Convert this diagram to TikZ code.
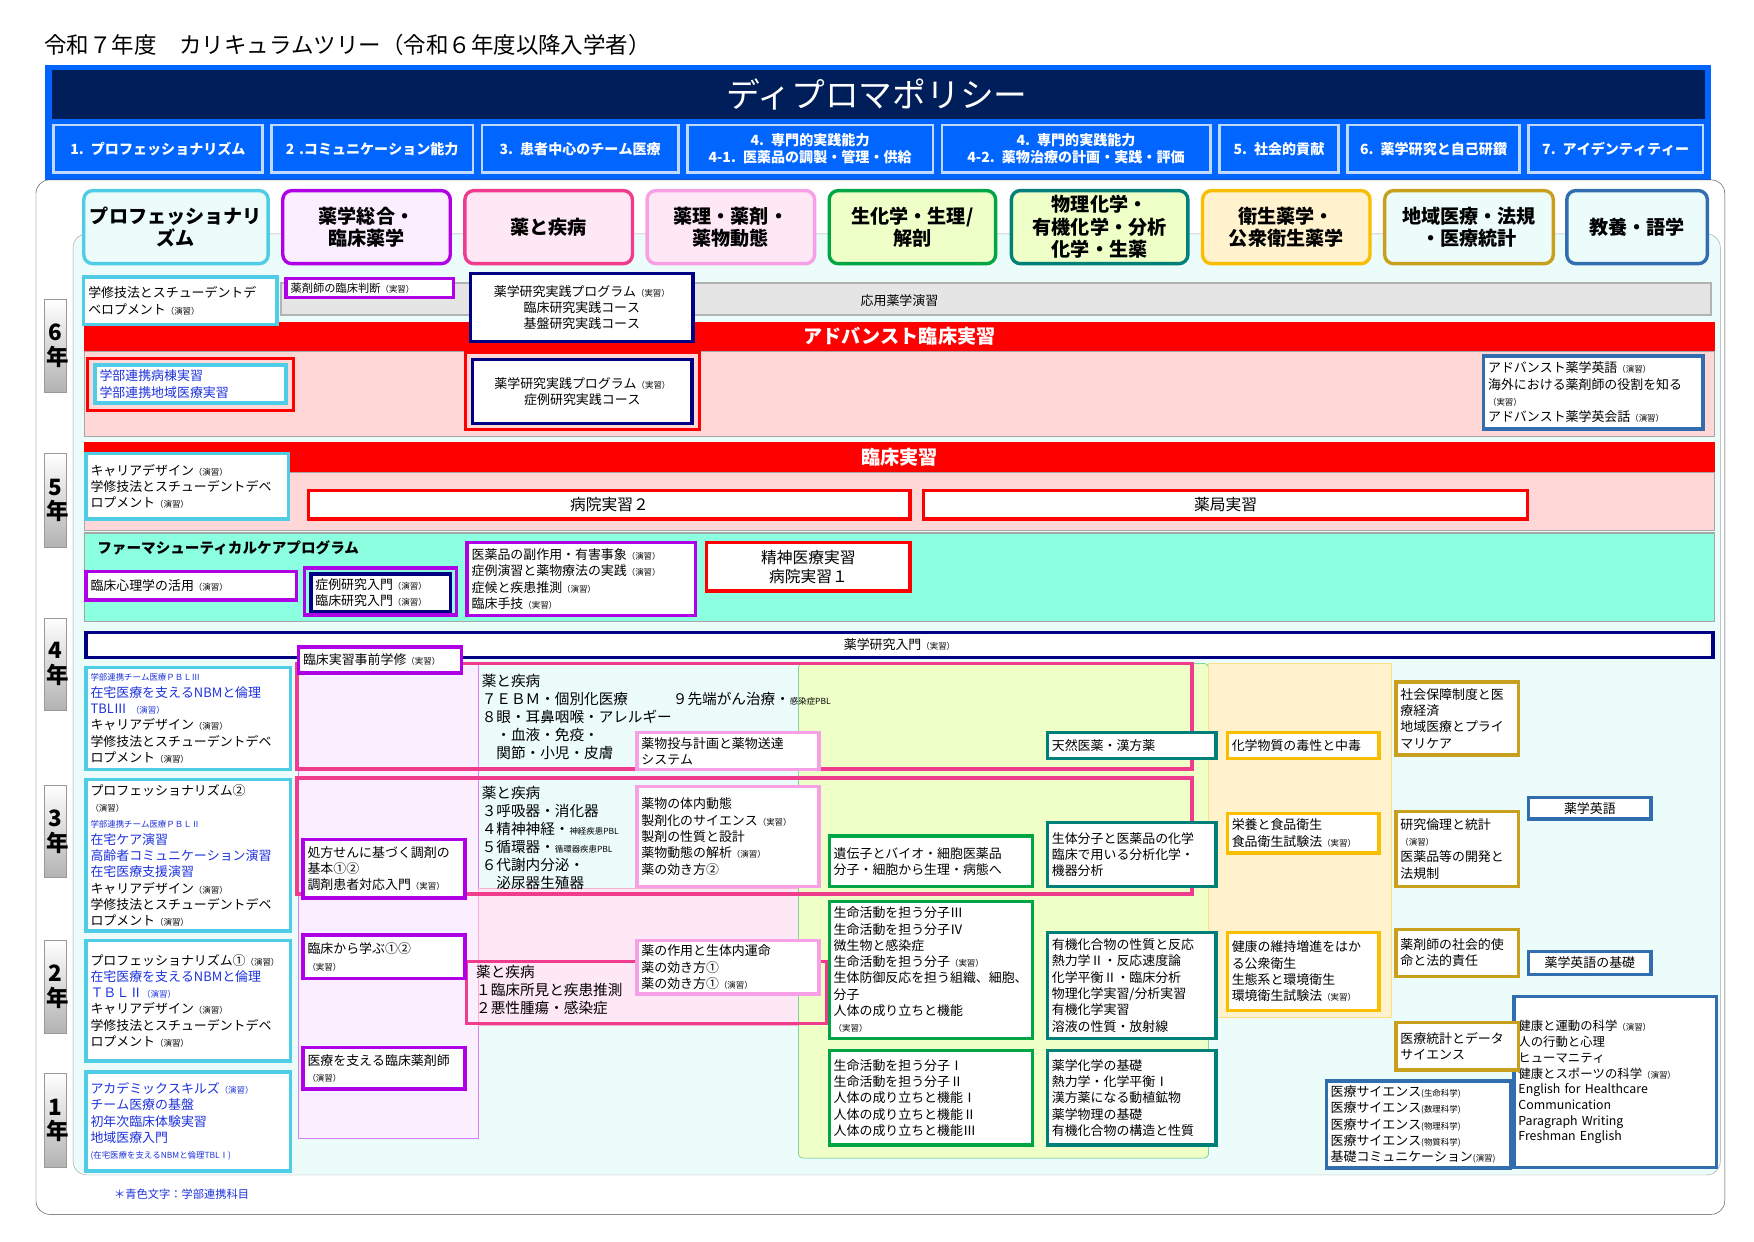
\documentclass[tikz,border=0pt]{standalone}
\usepackage{fontspec}
\setmainfont{Noto Sans CJK JP}
\XeTeXlinebreaklocale "ja"
\definecolor{dpblue}{RGB}{0,102,255}
\definecolor{dpnavy}{RGB}{0,30,90}
\definecolor{cyanb}{RGB}{80,205,230}
\definecolor{purb}{RGB}{175,0,230}
\definecolor{magb}{RGB}{240,60,140}
\definecolor{lpinkb}{RGB}{248,160,230}
\definecolor{greenb}{RGB}{0,165,70}
\definecolor{tealb}{RGB}{0,128,120}
\definecolor{yelb}{RGB}{250,190,0}
\definecolor{goldb}{RGB}{200,160,30}
\definecolor{steelb}{RGB}{50,110,175}
\definecolor{navyb}{RGB}{0,0,130}
\definecolor{bluet}{RGB}{30,50,220}
\definecolor{aqua}{RGB}{140,255,225}
\definecolor{pinkf}{RGB}{255,215,215}
\definecolor{bgcyan}{RGB}{235,252,250}
\definecolor{greenf}{RGB}{238,255,200}
\definecolor{yelf}{RGB}{255,242,205}
\definecolor{purf}{RGB}{250,238,255}
\definecolor{magf}{RGB}{255,232,246}
\newcommand\crs{\fontsize{11.5}{14.5}\selectfont}
\newcommand\sm[1]{{\fontsize{7.5}{9}\selectfont #1}}
\newcommand\en{\sm{（演習）}}
\newcommand\ji{\sm{（実習）}}
\newcommand\blk[7]{%
  \pgfmathsetmacro\tw{#5-#3-11}%
  \pgfmathsetmacro\th{#6-#4-3}%
  \node[#2, anchor=north west, text width=\tw pt, minimum height=\th pt] (#1) at (#3+1.5,#4+1.5) {#7};}
\tikzset{
  cbox/.style={draw=#1, line width=3pt, fill=white, inner sep=4pt, outer sep=0pt, align=left, font=\crs},
  head/.style 2 args={draw=#1, fill=#2, line width=3pt, rounded corners=8pt, inner sep=4pt, outer sep=0pt,
    align=center, font=\fontsize{17}{20}\selectfont\bfseries},
  dpbox/.style={fill=dpblue, draw=white!75!dpblue, line width=2pt, inner sep=4pt, outer sep=0pt, text=white,
    align=center, font=\fontsize{12.5}{15}\selectfont\bfseries},
  band/.style={fill=#1, draw=gray!70, line width=1pt},
  yeartab/.style={draw=gray!80, top color=white, bottom color=gray!60, inner sep=2pt, outer sep=0pt,
    align=center, font=\fontsize{20}{22}\selectfont\bfseries, text width=18pt},
}
\begin{document}
\begin{tikzpicture}[x=1pt,y=-1pt]
  \useasboundingbox (0,0) rectangle (1560,1104);
  \fill[white] (0,0) rectangle (1560,1104);
  \node[anchor=west, font=\fontsize{20}{22}\selectfont] (title) at (36,40) {令和７年度　カリキュラムツリー（令和６年度以降入学者）};
  % diploma policy
  \fill[dpblue] (40,58) rectangle (1522,160);
  \fill[dpnavy] (46,62) rectangle (1516,106);
  \node[text=white, font=\fontsize{30}{32}\selectfont] (dp) at (780,84) {ディプロマポリシー};
  \blk{dp1}{dpbox}{46}{110}{235}{155}{1. プロフェッショナリズム}
  \blk{dp2}{dpbox}{240}{110}{422}{155}{2 .コミュニケーション能力}
  \blk{dp3}{dpbox}{427}{110}{605}{155}{3. 患者中心のチーム医療}
  \blk{dp41}{dpbox}{610}{110}{831}{155}{4. 専門的実践能力\\4-1. 医薬品の調製・管理・供給}
  \blk{dp42}{dpbox}{836}{110}{1078}{155}{4. 専門的実践能力\\4-2. 薬物治療の計画・実践・評価}
  \blk{dp5}{dpbox}{1083}{110}{1192}{155}{5. 社会的貢献}
  \blk{dp6}{dpbox}{1197}{110}{1353}{155}{6. 薬学研究と自己研鑽}
  \blk{dp7}{dpbox}{1358}{110}{1516}{155}{7. アイデンティティー}
  % frames
  \draw[black!70, rounded corners=12pt] (32,160) rectangle (1534,1080);
  \draw[gray!70, fill=bgcyan, rounded corners=12pt] (65,208) rectangle (1530,1045);
  \draw[purb!50, fill=purf] (265,590) rectangle (425,1012);
  \draw[magb!40, fill=magf] (425,790) rectangle (735,912);
  \draw[greenb!70, fill=greenf, rounded corners=4pt] (710,590) rectangle (1075,1030);
  \draw[yelb!50, fill=yelf] (1075,590) rectangle (1237,905);
  % categories
  \blk{c1}{head={cyanb}{bgcyan}}{73}{168}{240}{236}{プロフェッショナリ\\ズム}
  \blk{c2}{head={purb}{purf}}{250}{168}{402}{236}{薬学総合・\\臨床薬学}
  \blk{c3}{head={magb}{magf}}{412}{168}{564}{236}{薬と疾病}
  \blk{c4}{head={lpinkb}{magf}}{574}{168}{726}{236}{薬理・薬剤・\\薬物動態}
  \blk{c5}{head={greenb}{greenf}}{736}{168}{887}{236}{生化学・生理/\\解剖}
  \blk{c6}{head={tealb}{greenf}}{898}{168}{1058}{236}{物理化学・\\有機化学・分析\\化学・生薬}
  \blk{c7}{head={yelb}{yelf}}{1068}{168}{1220}{236}{衛生薬学・\\公衆衛生薬学}
  \blk{c8}{head={goldb}{bgcyan}}{1230}{168}{1383}{236}{地域医療・法規\\・医療統計}
  \blk{c9}{head={steelb}{bgcyan}}{1392}{168}{1520}{236}{教養・語学}
  % years
  \blk{y6}{yeartab}{38}{265}{64}{350}{6\\年}
  \blk{y5}{yeartab}{38}{402}{64}{488}{5\\年}
  \blk{y4}{yeartab}{38}{548}{64}{633}{4\\年}
  \blk{y3}{yeartab}{38}{697}{64}{782}{3\\年}
  \blk{y2}{yeartab}{38}{835}{64}{920}{2\\年}
  \blk{y1}{yeartab}{38}{953}{64}{1040}{1\\年}
  % 6th year
  \draw[band=gray!20, draw=gray!60, line width=2pt] (250,252) rectangle (1522,280);
  \node[font=\crs] (ouyou) at (800,267) {応用薬学演習};
  \fill[red] (75,286) rectangle (1525,313);
  \node[text=white, font=\fontsize{17}{19}\selectfont\bfseries] (adv) at (800,299) {アドバンスト臨床実習};
  \draw[band=pinkf] (75,313) rectangle (1525,388);
  \blk{g6a}{cbox=cyanb}{73}{245}{248}{290}{学修技法とスチューデントデ\\ベロプメント\en}
  \blk{g6b}{cbox=purb}{253}{246}{405}{266}{\fontsize{10}{12}\selectfont 薬剤師の臨床判断\ji}
  \blk{g6c}{cbox=navyb, align=center}{417}{242}{618}{305}{薬学研究実践プログラム\ji\\臨床研究実践コース\\基盤研究実践コース}
  \draw[red, line width=3pt] (78,319) rectangle (261,365);
  \blk{g6d}{cbox=cyanb, text=bluet}{83}{323}{256}{360}{学部連携病棟実習\\学部連携地域医療実習}
  \draw[red, line width=3pt] (414,313) rectangle (622,382);
  \blk{g6e}{cbox=navyb, align=center}{419}{318}{617}{378}{薬学研究実践プログラム\ji\\症例研究実践コース}
  \blk{g6f}{cbox=steelb}{1318}{315}{1516}{383}{アドバンスト薬学英語\en\\海外における薬剤師の役割を知る\\\ji\\アドバンスト薬学英会話\en}
  % 5th year
  \fill[red] (75,393) rectangle (1525,420);
  \node[text=white, font=\fontsize{17}{19}\selectfont\bfseries] (rin) at (800,407) {臨床実習};
  \draw[band=pinkf] (75,420) rectangle (1525,472);
  \blk{g5a}{cbox=cyanb}{75}{402}{258}{463}{キャリアデザイン\en\\学修技法とスチューデントデベ\\ロプメント\en}
  \blk{g5b}{cbox=red, align=center, font=\fontsize{14}{16}\selectfont}{273}{435}{811}{463}{病院実習２}
  \blk{g5c}{cbox=red, align=center, font=\fontsize{14}{16}\selectfont}{820}{435}{1360}{463}{薬局実習}
  \draw[band=aqua] (75,474) rectangle (1525,553);
  \node[anchor=west, font=\fontsize{13}{15}\selectfont\bfseries] (pcp) at (83,487) {ファーマシューティカルケアプログラム};
  \blk{g5d}{cbox=purb}{75}{507}{265}{535}{臨床心理学の活用\en}
  \draw[purb, line width=3pt] (271,505) rectangle (406,547);
  \blk{g5e}{cbox=navyb}{275}{509}{402}{543}{症例研究入門\en\\臨床研究入門\en}
  \blk{g5f}{cbox=purb}{414}{481}{620}{549}{医薬品の副作用・有害事象\en\\症例演習と薬物療法の実践\en\\症候と疾患推測\en\\臨床手技\ji}
  \blk{g5g}{cbox=red, align=center, font=\fontsize{14}{17}\selectfont}{627}{481}{811}{527}{精神医療実習\\病院実習１}
  % 4th year
  \blk{g4a}{cbox=navyb, align=center}{75}{561}{1525}{586}{薬学研究入門\ji}
  \draw[magb, line width=3pt] (264,590) rectangle (1060,684);
  \node[anchor=north west, align=left, font=\fontsize{13}{16}\selectfont] (d4) at (425,596) {薬と疾病\\７ＥＢＭ・個別化医療\\８眼・耳鼻咽喉・アレルギー\\　・血液・免疫・\\　関節・小児・皮膚};
  \node[anchor=north west, font=\fontsize{13}{16}\selectfont] (d4b) at (595,612) {９先端がん治療・\sm{感染症PBL}};
  \blk{g4b}{cbox=purb}{264}{574}{412}{600}{臨床実習事前学修\ji}
  \blk{g4c}{cbox=cyanb}{75}{592}{260}{686}{\textcolor{bluet}{\sm{学部連携チーム医療ＰＢＬⅢ}}\\\textcolor{bluet}{在宅医療を支えるNBMと倫理}\\\textcolor{bluet}{TBLⅢ \en}\\キャリアデザイン\en\\学修技法とスチューデントデベ\\ロプメント\en}
  \blk{g4d}{cbox=lpinkb}{565}{650}{730}{686}{薬物投与計画と薬物送達\\システム}
  \blk{g4e}{cbox=tealb}{930}{650}{1083}{676}{天然医薬・漢方薬}
  \blk{g4f}{cbox=yelb}{1090}{650}{1228}{676}{化学物質の毒性と中毒}
  \blk{g4g}{cbox=goldb}{1240}{605}{1352}{673}{社会保障制度と医\\療経済\\地域医療とプライ\\マリケア}
  % 3rd year
  \draw[magb, line width=3pt] (264,692) rectangle (1060,795);
  \node[anchor=north west, align=left, font=\fontsize{13}{16}\selectfont] (d3) at (425,696) {薬と疾病\\３呼吸器・消化器\\４精神神経・\sm{神経疾患PBL}\\５循環器・\sm{循環器疾患PBL}\\６代謝内分泌・\\　泌尿器生殖器};
  \blk{g3a}{cbox=cyanb}{75}{692}{260}{828}{プロフェッショナリズム②\\\en\\\textcolor{bluet}{\sm{学部連携チーム医療ＰＢＬⅡ}}\\\textcolor{bluet}{在宅ケア演習}\\\textcolor{bluet}{高齢者コミュニケーション演習}\\\textcolor{bluet}{在宅医療支援演習}\\キャリアデザイン\en\\学修技法とスチューデントデベ\\ロプメント\en}
  \blk{g3b}{cbox=purb}{268}{745}{415}{800}{処方せんに基づく調剤の\\基本①②\\調剤患者対応入門\ji}
  \blk{g3c}{cbox=lpinkb}{565}{698}{730}{790}{薬物の体内動態\\製剤化のサイエンス\ji\\製剤の性質と設計\\薬物動態の解析\en\\薬の効き方②}
  \blk{g3d}{cbox=greenb}{736}{742}{920}{790}{遺伝子とバイオ・細胞医薬品\\分子・細胞から生理・病態へ}
  \blk{g3e}{cbox=tealb}{930}{730}{1083}{790}{生体分子と医薬品の化学\\臨床で用いる分析化学・\\機器分析}
  \blk{g3f}{cbox=yelb}{1090}{722}{1228}{760}{栄養と食品衛生\\食品衛生試験法\ji}
  \blk{g3g}{cbox=goldb}{1240}{720}{1352}{790}{研究倫理と統計\\\en\\医薬品等の開発と\\法規制}
  \blk{g3h}{cbox=steelb, align=center}{1358}{708}{1470}{730}{薬学英語}
  % 2nd year
  \draw[magb, line width=3pt] (415,855) rectangle (735,910);
  \node[anchor=north west, align=left, font=\fontsize{13}{16}\selectfont] (d2) at (420,855) {薬と疾病\\１臨床所見と疾患推測\\２悪性腫瘍・感染症};
  \blk{g2a}{cbox=cyanb}{75}{835}{260}{945}{プロフェッショナリズム①\en\\\textcolor{bluet}{在宅医療を支えるNBMと倫理}\\\textcolor{bluet}{ＴＢＬⅡ\en}\\キャリアデザイン\en\\学修技法とスチューデントデベ\\ロプメント\en}
  \blk{g2b}{cbox=purb}{268}{830}{415}{872}{臨床から学ぶ①②\\\ji}
  \blk{g2c}{cbox=lpinkb}{565}{835}{730}{885}{薬の作用と生体内運命\\薬の効き方①\\薬の効き方①\en}
  \blk{g2d}{cbox=greenb}{736}{800}{920}{925}{生命活動を担う分子Ⅲ\\生命活動を担う分子Ⅳ\\微生物と感染症\\生命活動を担う分子\ji\\生体防御反応を担う組織、細胞、\\分子\\人体の成り立ちと機能\\\ji}
  \blk{g2e}{cbox=tealb}{930}{828}{1083}{925}{有機化合物の性質と反応\\熱力学Ⅱ・反応速度論\\化学平衡Ⅱ・臨床分析\\物理化学実習/分析実習\\有機化学実習\\溶液の性質・放射線}
  \blk{g2f}{cbox=yelb}{1090}{828}{1228}{900}{健康の維持増進をはか\\る公衆衛生\\生態系と環境衛生\\環境衛生試験法\ji}
  \blk{g2g}{cbox=goldb}{1240}{825}{1352}{870}{薬剤師の社会的使\\命と法的責任}
  \blk{g2h}{cbox=steelb, align=center}{1358}{845}{1470}{868}{薬学英語の基礎}
  \blk{g2i}{cbox=purb}{268}{930}{415}{970}{医療を支える臨床薬剤師\\\en}
  % 1st year and liberal arts
  \blk{l1}{cbox=steelb, font=\fontsize{11}{14}\selectfont}{1345}{885}{1528}{1040}{健康と運動の科学\en\\人の行動と心理\\ヒューマニティ\\健康とスポーツの科学\en\\English for Healthcare\\Communication\\Paragraph Writing\\Freshman English}
  \blk{l2}{cbox=steelb}{1178}{960}{1345}{1040}{医療サイエンス\sm{(生命科学)}\\医療サイエンス\sm{(数理科学)}\\医療サイエンス\sm{(物理科学)}\\医療サイエンス\sm{(物質科学)}\\基礎コミュニケーション\sm{(演習)}}
  \blk{g2j}{cbox=goldb}{1240}{908}{1352}{953}{医療統計とデータ\\サイエンス}
  \blk{g1a}{cbox=cyanb, text=bluet}{75}{952}{260}{1043}{アカデミックスキルズ\en\\チーム医療の基盤\\初年次臨床体験実習\\地域医療入門\\\sm{(在宅医療を支えるNBMと倫理TBLⅠ)}}
  \blk{g1b}{cbox=greenb}{736}{933}{920}{1020}{生命活動を担う分子Ⅰ\\生命活動を担う分子Ⅱ\\人体の成り立ちと機能Ⅰ\\人体の成り立ちと機能Ⅱ\\人体の成り立ちと機能Ⅲ}
  \blk{g1c}{cbox=tealb}{930}{933}{1083}{1020}{薬学化学の基礎\\熱力学・化学平衡Ⅰ\\漢方薬になる動植鉱物\\薬学物理の基礎\\有機化合物の構造と性質}
  \node[anchor=west, text=bluet, font=\fontsize{10}{12}\selectfont] (note) at (98,1062) {＊青色文字：学部連携科目};
\end{tikzpicture}
\end{document}
